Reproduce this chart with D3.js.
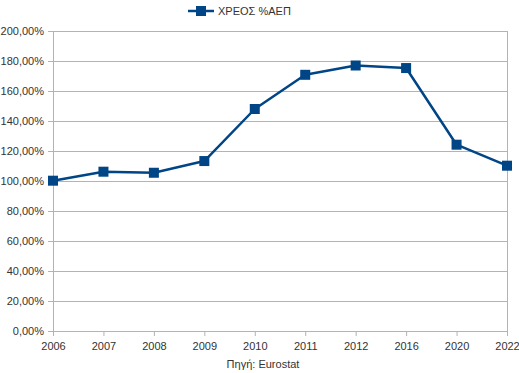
<!DOCTYPE html>
<html>
<head>
<meta charset="utf-8">
<script src="https://cdn.jsdelivr.net/npm/d3@7/dist/d3.min.js"></script>
<style>
  body { margin: 0; background: #fff; }
  text { font-family: "Liberation Sans", Arial, sans-serif; }
</style>
</head>
<body>
<div id="chart"></div>
<script>
// data
var years = ["2006", "2007", "2008", "2009", "2010", "2011", "2012", "2016", "2020", "2022"];
var debt = [100.2, 106.2, 105.5, 113.3, 148, 170.8, 177, 175.3, 124.2, 110.2];
var yTicks = [0, 20, 40, 60, 80, 100, 120, 140, 160, 180, 200];
var seriesName = "ΧΡΕΟΣ %ΑΕΠ";
var source = "Πηγή: Eurostat";

var W = 519, H = 373;
var margin = { top: 31, right: 12, bottom: 42, left: 53 };
var width = W - margin.left - margin.right;
var height = H - margin.top - margin.bottom;
var blue = "#004586", grid = "#b3b3b3", txt = "#333";

var svg = d3.select("#chart").append("svg")
    .attr("width", W)
    .attr("height", H);
var g = svg.append("g")
    .attr("transform", "translate(" + margin.left + "," + margin.top + ")");

var x = d3.scalePoint().domain(years).range([0, width]).padding(0);
var y = d3.scaleLinear().domain([0, 200]).range([height, 0]);

// gridlines
g.selectAll(".grid").data(yTicks).enter().append("line")
    .attr("x1", -5).attr("x2", width)
    .attr("y1", function(d) { return y(d) + 0.5; })
    .attr("y2", function(d) { return y(d) + 0.5; })
    .attr("stroke", grid);

// right border
g.append("line")
    .attr("x1", width + 0.5).attr("x2", width + 0.5)
    .attr("y1", 0).attr("y2", height)
    .attr("stroke", grid);

// y axis
var fmt = function(d) { return d3.format(".2f")(d).replace(".", ",") + "%"; };
var yAxis = g.append("g")
    .call(d3.axisLeft(y).tickValues(yTicks).tickFormat(fmt).tickSize(5).tickPadding(4));
yAxis.select(".domain").attr("stroke", grid);
yAxis.selectAll(".tick line").attr("stroke", grid);
yAxis.selectAll("text").attr("fill", txt).style("font-size", "11px");

// x axis
var xAxis = g.append("g")
    .attr("transform", "translate(0," + height + ")")
    .call(d3.axisBottom(x).tickSize(5).tickPadding(6));
xAxis.select(".domain").attr("stroke", grid);
xAxis.selectAll(".tick line").attr("stroke", grid);
xAxis.selectAll("text").attr("fill", txt).style("font-size", "11px");

// line
var line = d3.line()
    .x(function(d, i) { return x(years[i]); })
    .y(function(d) { return y(d); });
g.append("path")
    .datum(debt)
    .attr("fill", "none")
    .attr("stroke", blue)
    .attr("stroke-width", 2.5)
    .attr("stroke-linejoin", "round")
    .attr("d", line);

g.selectAll(".pt").data(debt).enter().append("rect")
    .attr("x", function(d, i) { return x(years[i]) - 5; })
    .attr("y", function(d) { return y(d) - 5; })
    .attr("width", 10).attr("height", 10)
    .attr("fill", blue);

// legend
var lg = svg.append("g").attr("transform", "translate(188,11)");
lg.append("line").attr("x1", 0).attr("x2", 26).attr("y1", 0).attr("y2", 0)
    .attr("stroke", blue).attr("stroke-width", 2.5);
lg.append("rect").attr("x", 8).attr("y", -5).attr("width", 10).attr("height", 10).attr("fill", blue);
lg.append("text").attr("x", 30).attr("y", 4).text(seriesName)
    .attr("fill", txt).style("font-size", "11px");

// source caption
svg.append("text")
    .attr("x", 263).attr("y", 368)
    .attr("text-anchor", "middle")
    .attr("fill", txt).style("font-size", "11px")
    .text(source);
</script>
</body>
</html>
